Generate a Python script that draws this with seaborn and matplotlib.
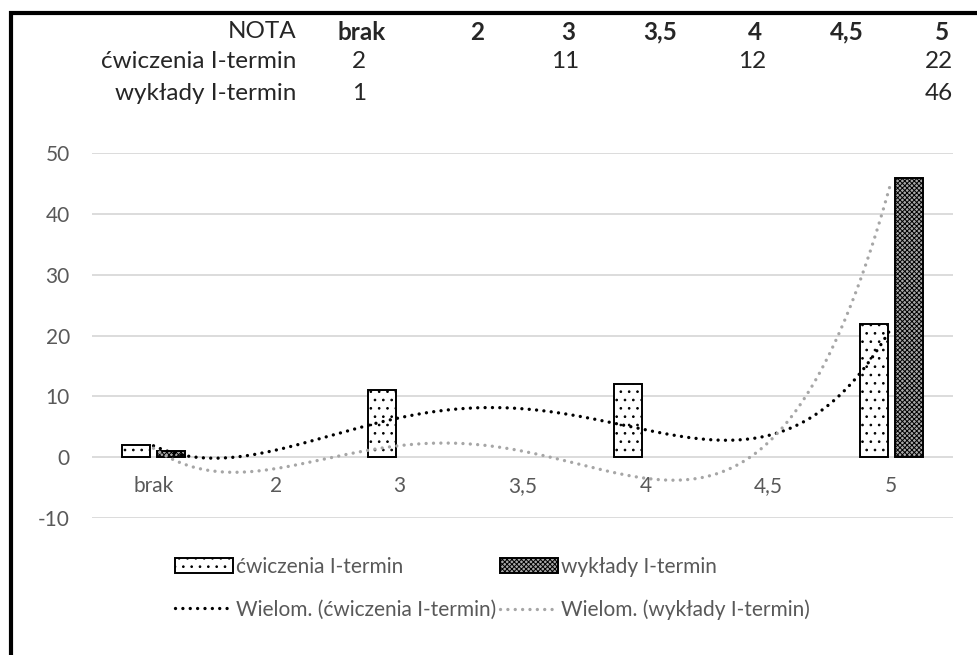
import numpy as np
import pandas as pd
import matplotlib.pyplot as plt
import seaborn as sns
from matplotlib.patches import Patch, Rectangle
from matplotlib.lines import Line2D

# dane z tabeli (puste komorki = nan)
categories = ['brak', '2', '3', '3,5', '4', '4,5', '5']
series_names = ['ćwiczenia I-termin', 'wykłady I-termin']
cwiczenia = [2, np.nan, 11, np.nan, 12, np.nan, 22]
wyklady = [1, np.nan, np.nan, np.nan, np.nan, np.nan, 46]
y_ticks = [-10, 0, 10, 20, 30, 40, 50]

TXT = '#595959'
GRID = '#d9d9d9'

sns.set_style('white')
plt.rcParams['font.family'] = ['Lato', 'DejaVu Sans']
plt.rcParams['hatch.linewidth'] = 0.7
plt.rcParams['axes.unicode_minus'] = False

df = pd.DataFrame({'NOTA': categories,
                   series_names[0]: cwiczenia,
                   series_names[1]: wyklady})
long_df = df.melt(id_vars='NOTA', var_name='seria', value_name='liczba').dropna()

fig = plt.figure(figsize=(9.77, 6.55), dpi=100)
ax = fig.add_axes([0.0942, 0.209, 0.881, 0.557])

sns.barplot(data=long_df, x='NOTA', y='liczba', hue='seria',
            order=categories, hue_order=series_names,
            palette=['white', '#a8a8a8'], saturation=1,
            width=0.57, gap=0.2, edgecolor='black', linewidth=1.4,
            errorbar=None, legend=False, ax=ax)

hatches = ['..', 'xxxxxxx']
for cont, h in zip(ax.containers, hatches):
    for bar in cont:
        bar.set_hatch(h)

# linie trendu: wielomian 4. stopnia, puste komorki liczone jako 0 (jak w Excelu)
grid_x = np.linspace(0, len(categories) - 1, 300)
trend_style = dict(lw=2.4, linestyle=(0, (0.01, 2.2)), dash_capstyle='round')
for vals, color in [(cwiczenia, 'black'), (wyklady, '#a6a6a6')]:
    y = np.nan_to_num(np.array(vals, dtype=float))
    coef = np.polyfit(np.arange(1, len(y) + 1), y, 4)
    ax.plot(grid_x, np.polyval(coef, grid_x + 1), color=color, **trend_style)

ax.set_xlim(-0.5, len(categories) - 0.5)
ax.set_ylim(-10, 50)
ax.set_yticks(y_ticks)
ax.set_xticks([])
ax.set_xlabel('')
ax.set_ylabel('')
ax.yaxis.grid(True, color=GRID, lw=1.3)
ax.set_axisbelow(True)
ax.tick_params(axis='y', length=0, pad=16, labelsize=15, labelcolor=TXT)
for s in ax.spines.values():
    s.set_visible(False)

for i, c in enumerate(categories):
    ax.text(i, -4.8, c, ha='center', va='center', fontsize=15, color=TXT)

# legenda
handles = [
    Patch(facecolor='white', edgecolor='black', hatch=hatches[0], lw=1.4, label=series_names[0]),
    Line2D([], [], color='black', label='Wielom. (' + series_names[0] + ')', **trend_style),
    Patch(facecolor='#a8a8a8', edgecolor='black', hatch=hatches[1], lw=1.4, label=series_names[1]),
    Line2D([], [], color='#a6a6a6', label='Wielom. (' + series_names[1] + ')', **trend_style),
]
fig.legend(handles=handles, ncol=2, loc='upper left',
           bbox_to_anchor=(156 / 977, 1 - 538 / 655), frameon=False,
           fontsize=15, labelcolor=TXT, handlelength=2.8, handleheight=0.7,
           handletextpad=0.15, columnspacing=0.15, labelspacing=1.1)

# tabela nad wykresem
W, H = 977, 655
col_x = [362, 477, 568, 660, 755, 847, 942]
row_y = [32, 62, 93]
fig.text(296 / W, 1 - row_y[0] / H, 'NOTA', ha='right', va='center', fontsize=17.5)
for x, c in zip(col_x, categories):
    fig.text(x / W, 1 - row_y[0] / H, c, ha='center', va='center', fontsize=17.5, fontweight='bold')
for ry, name, vals in zip(row_y[1:], series_names, [cwiczenia, wyklady]):
    fig.text(296 / W, 1 - ry / H, name, ha='right', va='center', fontsize=17.5)
    for x, v in zip(col_x, vals):
        if not np.isnan(v):
            fig.text((x - 3) / W, 1 - ry / H, str(int(v)), ha='center', va='center', fontsize=17.5)

# ramka
fig.add_artist(Rectangle((11 / W, -0.1), 2, (1 - 13 / H) + 0.1, transform=fig.transFigure,
                         fill=False, edgecolor='black', lw=3))

fig.savefig('out.png', dpi=100)
